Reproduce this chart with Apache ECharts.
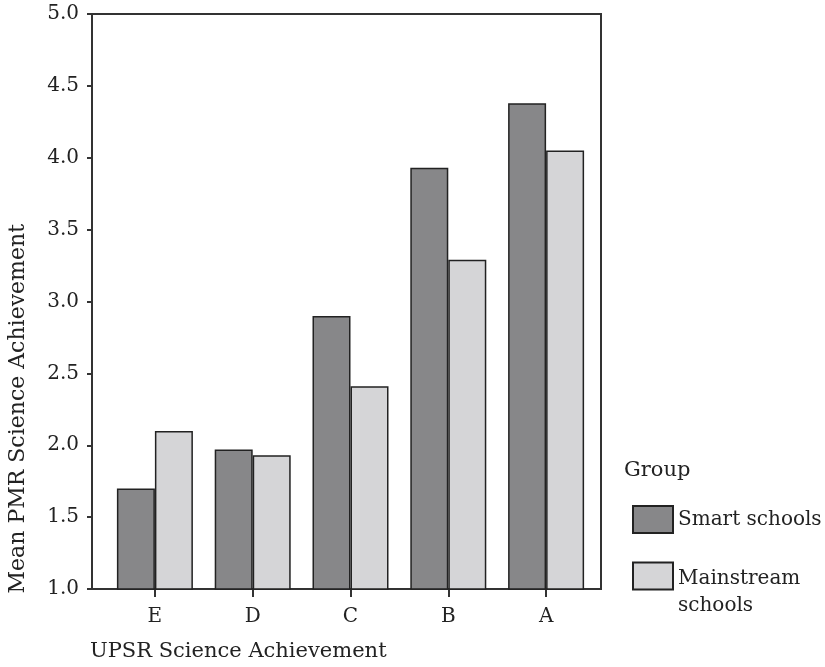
<!DOCTYPE html>
<html>
<head>
<meta charset="utf-8">
<script src="https://cdn.jsdelivr.net/npm/echarts@6/dist/echarts.min.js"></script>
<style>
  html, body { margin: 0; padding: 0; background: #fff; }
  #chart { width: 825px; height: 667px; }
</style>
</head>
<body>
<div id="chart"></div>
<script>
// values
const categories = ['E', 'D', 'C', 'B', 'A'];
const smartSchools = [1.70, 1.97, 2.90, 3.93, 4.38];
const mainstreamSchools = [2.10, 1.93, 2.41, 3.29, 4.05];
const yTicks = { min: 1.0, max: 5.0, step: 0.5 };

const FONT = 'DejaVu Serif';
const INK = '#222';

const chart = echarts.init(document.getElementById('chart'), null, { renderer: 'canvas' });

const legendBase = {
  orient: 'vertical',
  left: 627,
  itemWidth: 40,
  itemHeight: 27,
  icon: 'rect',
  textStyle: { fontFamily: FONT, fontSize: 20, color: INK }
};

chart.setOption({
  backgroundColor: '#fff',
  animation: false,
  textStyle: { fontFamily: FONT, color: INK },
  grid: [
    // frame + y axis
    { left: 92, right: 224, top: 14, bottom: 78, show: true, borderColor: '#333', borderWidth: 2, backgroundColor: 'transparent' },
    // bars
    { left: 106, right: 230, top: 14, bottom: 78 }
  ],
  xAxis: [
    { gridIndex: 0, type: 'value', show: false, min: 0, max: 1 },
    {
      gridIndex: 1,
      type: 'category',
      data: categories,
      axisLine: { show: false },
      axisTick: { show: true, alignWithLabel: true, length: 8, lineStyle: { color: '#333', width: 2 } },
      axisLabel: { fontFamily: FONT, fontSize: 20, color: INK, margin: 18 }
    }
  ],
  yAxis: [
    {
      gridIndex: 0,
      type: 'value',
      min: yTicks.min,
      max: yTicks.max,
      interval: yTicks.step,
      axisLine: { show: false },
      axisTick: { show: true, length: 5, lineStyle: { color: '#333', width: 2 } },
      splitLine: { show: false },
      axisLabel: { fontFamily: FONT, fontSize: 20, color: INK, margin: 13, formatter: v => v.toFixed(1) }
    },
    { gridIndex: 1, type: 'value', min: yTicks.min, max: yTicks.max, show: false, splitLine: { show: false } }
  ],
  legend: [
    Object.assign({}, legendBase, { top: 500, data: ['Smart schools'] }),
    Object.assign({}, legendBase, {
      top: 534,
      data: ['Mainstream schools'],
      // blank first line pushes the two text lines below the swatch centre
      formatter: () => '{s| }\n{a|Mainstream}\n{a|schools}',
      textStyle: {
        fontFamily: FONT, fontSize: 20, color: INK,
        rich: {
          s: { lineHeight: 33, fontSize: 20, fontFamily: FONT },
          a: { lineHeight: 27, fontSize: 20, fontFamily: FONT, color: INK }
        }
      }
    })
  ],
  graphic: [
    {
      type: 'text',
      left: 7,
      top: 224,
      rotation: Math.PI / 2,
      style: { text: 'Mean PMR Science Achievement', fontFamily: FONT, fontSize: 22, fill: INK }
    },
    {
      type: 'text',
      left: 90,
      top: 641,
      style: { text: 'UPSR Science Achievement', fontFamily: FONT, fontSize: 21, fill: INK }
    },
    {
      type: 'text',
      left: 624,
      top: 460,
      style: { text: 'Group', fontFamily: FONT, fontSize: 21, fill: INK }
    }
  ],
  series: [
    {
      name: 'Smart schools',
      type: 'bar',
      xAxisIndex: 1,
      yAxisIndex: 1,
      data: smartSchools,
      barWidth: 38,
      barGap: '0%',
      itemStyle: { color: '#878789', borderColor: '#222', borderWidth: 1.5 }
    },
    {
      name: 'Mainstream schools',
      type: 'bar',
      xAxisIndex: 1,
      yAxisIndex: 1,
      data: mainstreamSchools,
      barWidth: 38,
      barGap: '0%',
      itemStyle: { color: '#d5d5d7', borderColor: '#222', borderWidth: 1.5 }
    }
  ]
});
</script>
</body>
</html>
